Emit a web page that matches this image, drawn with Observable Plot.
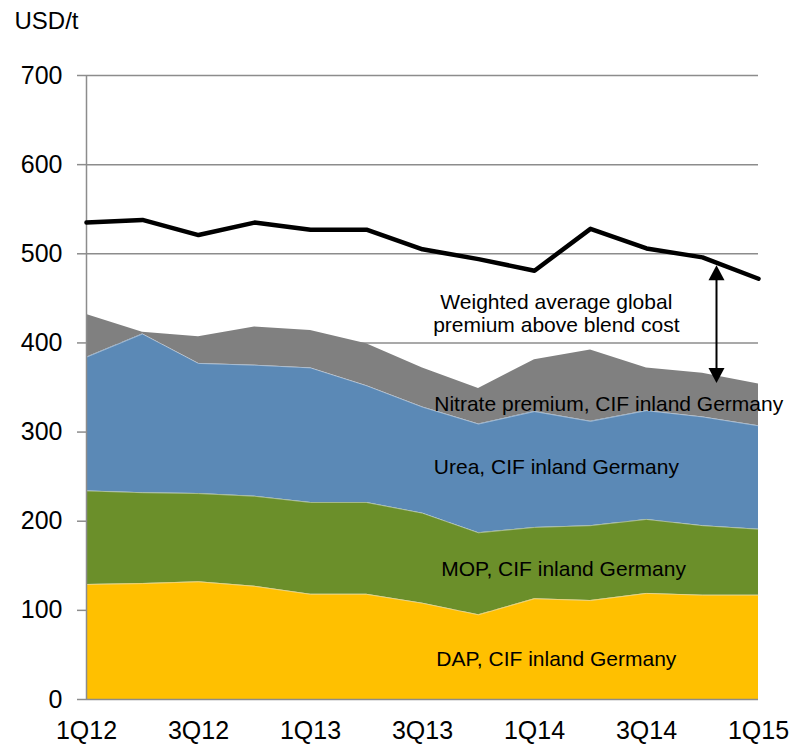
<!DOCTYPE html>
<html>
<head>
<meta charset="utf-8">
<script src="https://cdn.jsdelivr.net/npm/d3@7"></script>
<script src="https://cdn.jsdelivr.net/npm/@observablehq/plot@0.6"></script>
<style>
  html, body { margin: 0; padding: 0; background: #fff; }
  #chart { width: 805px; height: 744px; }
</style>
</head>
<body>
<div id="chart"></div>
<script>
// Quarters (x categories)
const quarters = ["1Q12","2Q12","3Q12","4Q12","1Q13","2Q13","3Q13","4Q13","1Q14","2Q14","3Q14","4Q14","1Q15"];
const xTickLabels = ["1Q12","3Q12","1Q13","3Q13","1Q14","3Q14","1Q15"];
const yTicks = [0, 100, 200, 300, 400, 500, 600, 700];

// Stacked components (USD/t)
const dap     = [129, 130, 132, 127, 118, 118, 108,  95, 113, 111, 119, 117, 117];
const mop     = [105, 102,  99, 101, 103, 103, 101,  92,  80,  84,  83,  78,  74];
const urea    = [150, 178, 146, 147, 151, 131, 119, 122, 130, 117, 122, 122, 116];
const nitrate = [ 48,   2,  30,  43,  42,  47,  44,  40,  58,  80,  48,  49,  47];

// Weighted average global price (black line)
const weighted = [535, 538, 521, 535, 527, 527, 505, 494, 481, 528, 506, 496, 472];

const seriesNames = ["DAP", "MOP", "Urea", "Nitrate"];
const seriesColors = ["#FFC000", "#6B8F2A", "#5B89B6", "#808080"];
const seriesValues = [dap, mop, urea, nitrate];

const stacked = [];
seriesNames.forEach((name, s) => {
  quarters.forEach((q, i) => stacked.push({series: name, i, value: seriesValues[s][i]}));
});
const lineData = quarters.map((q, i) => ({i, v: weighted[i]}));

// Annotations
const centeredLabels = [
  {text: "Weighted average global\npremium above blend cost", i: 8.39, v: 433},
  {text: "Urea, CIF inland Germany", i: 8.39, v: 261},
  {text: "MOP, CIF inland Germany", i: 8.52, v: 147},
  {text: "DAP, CIF inland Germany", i: 8.39, v: 46}
];
const startLabels = [
  {text: "Nitrate premium, CIF inland Germany", i: 6.21, v: 331}
];
const arrowX = 11.25, arrowTop = 487, arrowBottom = 355;

const upTri = {draw(ctx) { ctx.moveTo(0, 0); ctx.lineTo(-8, 15); ctx.lineTo(8, 15); ctx.closePath(); }};
const downTri = {draw(ctx) { ctx.moveTo(0, 0); ctx.lineTo(-8, -15); ctx.lineTo(8, -15); ctx.closePath(); }};

const font = "'Liberation Sans', Arial, sans-serif";
const gridColor = "#8c8c8c";

const chart = Plot.plot({
  width: 805,
  height: 744,
  marginLeft: 86,
  marginRight: 47,
  marginTop: 75,
  marginBottom: 45,
  style: {fontFamily: font, background: "#fff", color: "#000"},
  x: {type: "linear", domain: [0, quarters.length - 1]},
  y: {domain: [0, 700]},
  color: {domain: seriesNames, range: seriesColors},
  marks: [
    Plot.gridY(yTicks.filter(d => d > 0), {stroke: gridColor, strokeOpacity: 1, strokeWidth: 1.5}),
    Plot.areaY(stacked, Plot.stackY({x: "i", y: "value", fill: "series", order: seriesNames, curve: "linear"})),
    Plot.lineY(stacked.filter(d => d.series !== "Nitrate"), Plot.stackY2({x: "i", y: "value", z: "series", order: seriesNames, stroke: "#dfe6ee", strokeOpacity: 0.5, strokeWidth: 1})),
    Plot.ruleX([0], {y1: 0, y2: 700, stroke: gridColor, strokeWidth: 1.5}),
    Plot.ruleY([0], {stroke: gridColor, strokeWidth: 1.5}),
    Plot.axisY({ticks: yTicks, tickSize: 9, tickPadding: 15, stroke: gridColor, strokeWidth: 1.5, fontSize: 25, label: null}),
    Plot.axisX({ticks: xTickLabels.map(t => quarters.indexOf(t)), tickFormat: i => quarters[i], tickSize: 0, tickPadding: 22, fontSize: 25, label: null}),
    Plot.line(lineData, {x: "i", y: "v", stroke: "#000", strokeWidth: 4.5, strokeLinejoin: "round"}),
    Plot.ruleX([arrowX], {y1: arrowBottom + 5, y2: arrowTop - 5, stroke: "#000", strokeWidth: 2}),
    Plot.dot([{i: arrowX, v: arrowTop}], {x: "i", y: "v", symbol: upTri, fill: "#000", stroke: null}),
    Plot.dot([{i: arrowX, v: arrowBottom}], {x: "i", y: "v", symbol: downTri, fill: "#000", stroke: null}),
    Plot.text(centeredLabels, {x: "i", y: "v", text: "text", textAnchor: "middle", fontSize: 21, lineHeight: 1.1, fill: "#000"}),
    Plot.text(startLabels, {x: "i", y: "v", text: "text", textAnchor: "start", fontSize: 21, fill: "#000"}),
    Plot.text(["USD/t"], {frameAnchor: "top-left", textAnchor: "start", lineAnchor: "middle", dx: -72, dy: -54, fontSize: 24, fill: "#000"})
  ]
});
document.getElementById("chart").appendChild(chart);
</script>
</body>
</html>
